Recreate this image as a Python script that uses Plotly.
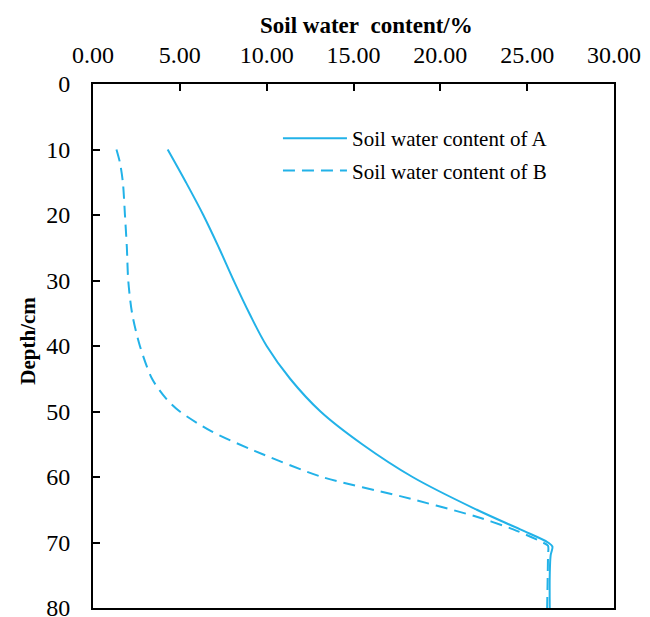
import plotly.graph_objects as go

# Data
depth_a = [10, 15, 20, 25, 30, 35, 40, 45, 50, 55, 60, 65, 68, 70, 70.6, 72, 75, 80]
water_a = [4.3, 5.35, 6.35, 7.25, 8.1, 9.0, 10.0, 11.35, 13.1, 15.5, 18.4, 22.1, 24.6, 26.2, 26.45, 26.35, 26.3, 26.3]

depth_b = [10, 12, 15, 20, 25, 30, 35, 40, 45, 48, 50, 53, 56, 60, 63, 66, 68, 70, 70.5, 72, 80]
water_b = [1.35, 1.55, 1.72, 1.84, 1.95, 2.03, 2.25, 2.7, 3.4, 4.2, 5.0, 6.8, 9.3, 13.2, 17.8, 22.0, 24.2, 25.9, 26.2, 26.2, 26.15]

x_ticks = [0, 5, 10, 15, 20, 25, 30]
y_ticks = [0, 10, 20, 30, 40, 50, 60, 70, 80]

name_a = "Soil water content of A"
name_b = "Soil water content of B"
x_title = "Soil water\u00a0 content/%"
y_title = "Depth/cm"

color = "#22b2e8"
font_family = "Liberation Serif"

fig = go.Figure()
fig.add_trace(go.Scatter(x=water_a, y=depth_a, mode="lines", name=name_a,
                         line=dict(color=color, width=2, shape="spline", smoothing=1.0),
                         legendgroup="a"))
fig.add_trace(go.Scatter(x=water_b, y=depth_b, mode="lines", name=name_b,
                         line=dict(color=color, width=2, dash="12px,7px", shape="spline", smoothing=0.8),
                         legendgroup="b"))

fig.update_layout(
    width=650, height=617,
    margin=dict(l=93, r=36, t=84, b=9),
    paper_bgcolor="white", plot_bgcolor="white",
    font=dict(family=font_family, color="black", size=24),
    showlegend=True,
    legend=dict(x=0.355, y=0.935, xanchor="left", yanchor="top",
                bgcolor="rgba(0,0,0,0)", font=dict(size=21, family=font_family),
                tracegroupgap=2, traceorder="grouped", itemwidth=64),
    xaxis=dict(side="top", range=[0, 30], tickvals=x_ticks,
               ticktext=[f"{v:.2f}" for v in x_ticks],
               ticks="inside", ticklen=7, tickwidth=2, tickcolor="black",
               showline=True, linewidth=2, linecolor="black", mirror=True,
               showgrid=False, zeroline=False, ticklabelstandoff=9,
               ticklabeloverflow="allow", automargin=False, tickfont=dict(size=24)),
    yaxis=dict(range=[80, 0], tickvals=y_ticks,
               ticks="inside", ticklen=7, tickwidth=2, tickcolor="black",
               showline=True, linewidth=2, linecolor="black", mirror=True,
               showgrid=False, zeroline=False, ticklabelstandoff=16,
               ticklabeloverflow="allow", automargin=False, tickfont=dict(size=24)),
    annotations=[
        dict(text=f"<b>{x_title}</b>", xref="paper", yref="paper", x=0.524, y=1.112,
             xanchor="center", yanchor="middle", showarrow=False,
             font=dict(size=23, family=font_family)),
        dict(text=f"<b>{y_title}</b>", xref="paper", yref="paper", x=-0.125, y=0.51,
             xanchor="center", yanchor="middle", showarrow=False, textangle=-90,
             font=dict(size=21, family=font_family)),
    ],
)

fig.write_html("out.html")
